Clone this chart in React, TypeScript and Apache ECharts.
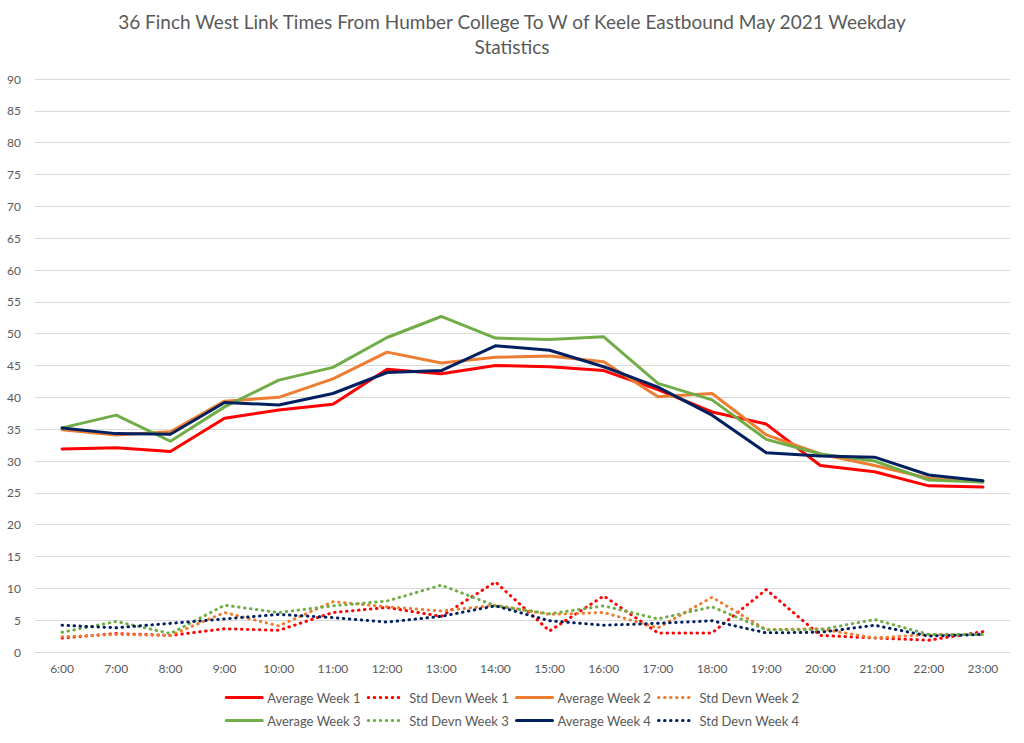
import React, { useEffect, useRef } from "react";
import * as echarts from "echarts";

const hours = ["6:00","7:00","8:00","9:00","10:00","11:00","12:00","13:00","14:00","15:00","16:00","17:00","18:00","19:00","20:00","21:00","22:00","23:00"];

const avgWeek1 = [31.9, 32.1, 31.5, 36.7, 38.0, 38.9, 44.4, 43.7, 45.0, 44.8, 44.2, 41.2, 37.7, 35.8, 29.3, 28.3, 26.1, 25.9];
const sdWeek1 = [2.2, 2.9, 2.6, 3.65, 3.4, 6.2, 7.0, 5.6, 11.0, 3.3, 8.8, 3.0, 3.0, 9.8, 2.6, 2.2, 1.85, 3.2];
const avgWeek2 = [34.9, 34.1, 34.6, 39.4, 40.0, 42.9, 47.1, 45.4, 46.3, 46.5, 45.6, 40.1, 40.6, 34.1, 31.1, 29.3, 27.3, 26.7];
const sdWeek2 = [2.4, 2.75, 2.6, 6.2, 4.1, 7.9, 7.1, 6.45, 7.35, 5.9, 6.2, 3.8, 8.6, 3.5, 3.65, 2.2, 2.75, 2.75];
const avgWeek3 = [35.2, 37.2, 33.1, 38.5, 42.7, 44.7, 49.4, 52.7, 49.3, 49.1, 49.5, 42.2, 39.6, 33.4, 31.1, 30.0, 27.0, 26.7];
const sdWeek3 = [3.1, 4.8, 2.9, 7.35, 6.2, 7.25, 8.0, 10.5, 7.25, 6.0, 7.25, 5.2, 7.1, 3.5, 3.5, 5.1, 2.75, 2.75];
const avgWeek4 = [35.2, 34.3, 34.2, 39.2, 38.8, 40.6, 43.9, 44.2, 48.1, 47.4, 44.8, 41.6, 37.2, 31.3, 30.8, 30.6, 27.8, 26.9];
const sdWeek4 = [4.2, 3.8, 4.5, 5.2, 5.9, 5.4, 4.7, 5.6, 7.25, 4.9, 4.2, 4.5, 4.9, 3.0, 3.1, 4.2, 2.5, 2.75];

const RED = "#FF0000";
const ORANGE = "#ED7D31";
const GREEN = "#70AD47";
const NAVY = "#002060";

const FONT = "Lato, 'Open Sans', sans-serif";

function solid(name: string, data: number[], color: string) {
  return {
    name, type: "line", data, color, symbol: "none",
    lineStyle: { color, width: 3, cap: "round", join: "round" },
  };
}
function dotted(name: string, data: number[], color: string) {
  return {
    name, type: "line", data, color, symbol: "none",
    lineStyle: { color, width: 3, type: [0.5, 5.5], cap: "round", join: "round" },
  };
}

export default function App() {
  const ref = useRef<HTMLDivElement>(null);
  useEffect(() => {
    if (!ref.current) return;
    const chart = echarts.init(ref.current, undefined, { renderer: "svg" });
    const legendText = { color: "#595959", fontSize: 13, fontFamily: FONT };
    const legendBase = {
      left: "center", itemWidth: 36, itemHeight: 14, itemGap: 6,
      textStyle: legendText,
      itemStyle: { opacity: 0 },
      lineStyle: { width: 3 },
    };
    chart.setOption({
      animation: false,
      backgroundColor: "#ffffff",
      title: {
        text: "36 Finch West Link Times From Humber College To W of Keele Eastbound May 2021 Weekday\nStatistics",
        left: "center",
        top: 4,
        textStyle: { color: "#595959", fontSize: 19, fontWeight: "normal", fontFamily: FONT, lineHeight: 25 },
      },
      grid: { left: 35, right: 14, top: 79, bottom: 91, containLabel: false },
      legend: [
        {
          ...legendBase,
          top: 686,
          data: ["Average Week 1", "Std Devn Week 1", "Average Week 2", "Std Devn Week 2"],
        },
        {
          ...legendBase,
          top: 709,
          data: ["Average Week 3", "Std Devn Week 3", "Average Week 4", "Std Devn Week 4"],
        },
      ],
      xAxis: {
        type: "category",
        data: hours,
        boundaryGap: true,
        axisLine: { show: true, lineStyle: { color: "#D9D9D9" } },
        axisTick: { show: false },
        axisLabel: { color: "#595959", fontSize: 12, fontFamily: FONT, margin: 10 },
      },
      yAxis: {
        type: "value",
        min: 0, max: 90, interval: 5,
        axisLine: { show: false },
        axisTick: { show: false },
        axisLabel: { color: "#595959", fontSize: 12, fontFamily: FONT, margin: 14 },
        splitLine: { lineStyle: { color: "#D9D9D9", width: 1 } },
      },
      series: [
        solid("Average Week 1", avgWeek1, RED),
        dotted("Std Devn Week 1", sdWeek1, RED),
        solid("Average Week 2", avgWeek2, ORANGE),
        dotted("Std Devn Week 2", sdWeek2, ORANGE),
        solid("Average Week 3", avgWeek3, GREEN),
        dotted("Std Devn Week 3", sdWeek3, GREEN),
        solid("Average Week 4", avgWeek4, NAVY),
        dotted("Std Devn Week 4", sdWeek4, NAVY),
      ],
    });
    return () => chart.dispose();
  }, []);
  return <div ref={ref} style={{ width: 1024, height: 743, position: "absolute", left: 0, top: 0 }} />;
}
